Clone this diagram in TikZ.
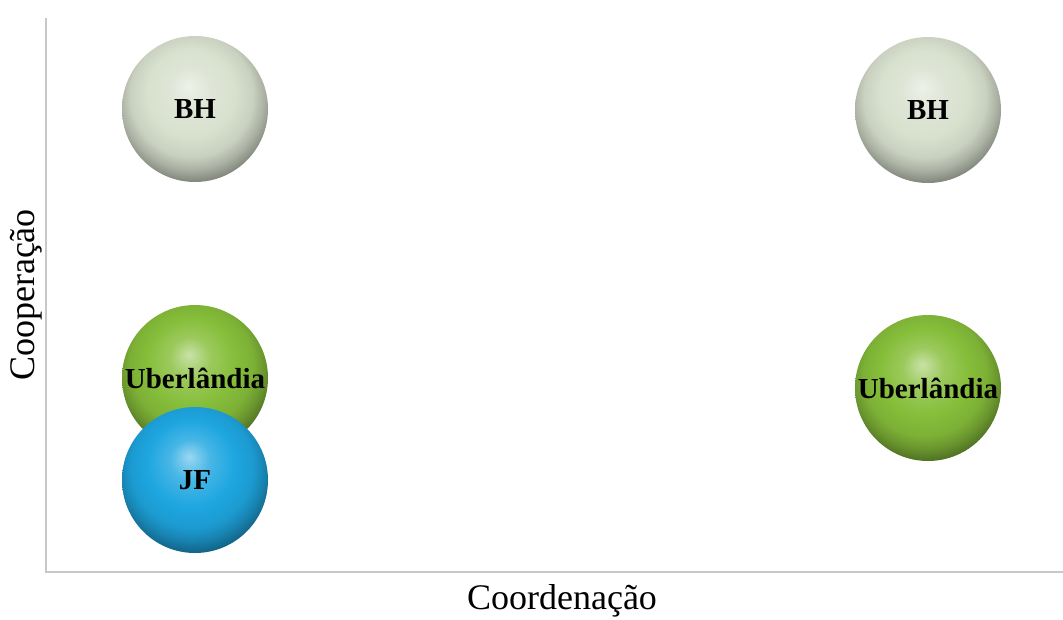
\documentclass[tikz,border=0pt]{standalone}
\usepackage{fontspec}
\setmainfont{Liberation Serif}
\usetikzlibrary{positioning}

\definecolor{bhgray}{RGB}{216,224,206}
\definecolor{ubgreen}{RGB}{134,190,58}
\definecolor{jfblue}{RGB}{30,166,224}
\definecolor{axisgray}{RGB}{200,200,200}

% softer sphere shading, coloured by "ball color"
\pgfdeclareradialshading[tikz@ball]{softball}{\pgfqpoint{-2bp}{8bp}}{%
  color(0bp)=(tikz@ball!45!white);
  color(7bp)=(tikz@ball!82!white);
  color(15bp)=(tikz@ball);
  color(21bp)=(tikz@ball!93!black);
  color(24.5bp)=(tikz@ball!80!black);
  color(28bp)=(tikz@ball!62!black);
  color(50bp)=(tikz@ball!50!black)}

\begin{document}
\begin{tikzpicture}[x=1pt, y=-1pt,
    bubble/.style={circle, minimum size=146pt, inner sep=0pt, ball color=#1, shading=softball,
      font=\fontsize{29}{30}\selectfont\bfseries},
    axislabel/.style={font=\fontsize{36}{38}\selectfont}]
    \useasboundingbox (0,0) rectangle (1063,619);

    % axes
    \coordinate (origin) at (46,572);
    \coordinate (ytop) at (46,18);
    \coordinate (xend) at (1063,572);
    \draw [axisgray, line width=1.2pt] (ytop) -- (origin) -- (xend);

    \node [axislabel] (xlabel) at (562,601) {Coordenação};
    \node [axislabel, rotate=90] (ylabel) at (26,295) {Cooperação};

    % bubbles
    \node [bubble=bhgray] (BHleft) at (195,109) {BH};
    \node [bubble=bhgray] (BHright) at (928,110) {BH};
    \node [bubble=ubgreen] (UBleft) at (195,378) {Uberlândia};
    \node [bubble=jfblue] (JF) at (195,480) {JF};
    \node [bubble=ubgreen] (UBright) at (928,388) {Uberlândia};
\end{tikzpicture}
\end{document}
